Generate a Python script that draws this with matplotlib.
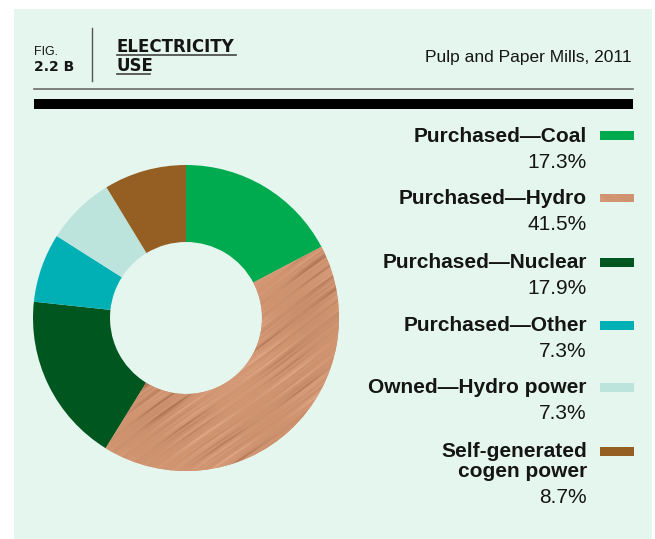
import matplotlib
matplotlib.use("Agg")
import matplotlib.pyplot as plt
import numpy as np
from matplotlib.patches import Rectangle
from matplotlib.lines import Line2D

# electricity sources, pulp and paper mills 2011
labels = ["Purchased\u2014Coal", "Purchased\u2014Hydro", "Purchased\u2014Nuclear",
          "Purchased\u2014Other", "Owned\u2014Hydro power", "Self-generated\ncogen power"]
shares = [17.3, 41.5, 17.9, 7.3, 7.3, 8.7]
pct_labels = ["17.3%", "41.5%", "17.9%", "7.3%", "7.3%", "8.7%"]
colors = ["#00ab4f", "#d09471", "#00561f", "#00b0b4", "#bde4dc", "#955f24"]
textured = 1  # hydro slice gets a wood grain fill

W, H = 655, 539
BG = "#e5f6ee"
INK = "#151515"


def fx(x):
    return x / W


def fy(y):
    return 1 - y / H


fig = plt.figure(figsize=(W / 100, H / 100), dpi=100)
fig.patch.set_facecolor("white")
fig.patches.append(Rectangle((fx(14), 0), fx(652) - fx(14), fy(9), transform=fig.transFigure,
                             facecolor=BG, edgecolor="none", zorder=-5))


def wood(n):
    # deterministic grain pattern, soft streaks running up and to the right
    g = np.linspace(-160, 160, n)
    x, y = np.meshgrid(g, g)
    a = np.deg2rad(36)
    u = x * np.cos(a) + y * np.sin(a)
    v = -x * np.sin(a) + y * np.cos(a)
    vv = v + 1.2 * np.sin(u * 0.03 + 0.7)
    grain = (0.40 * np.sin(vv * 0.55 + 0.3) + 0.30 * np.sin(vv * 1.15 + 1.3)
             + 0.20 * np.sin(vv * 1.9 + u * 0.02) + 0.25 * np.sin(vv * 0.21 + 2.2))
    grain = grain * (0.6 + 0.4 * np.sin(u * 0.06 + v * 0.015))
    blot = (np.sin(u * 0.035 + 1.0) * np.sin(v * 0.028 + 0.4)
            + 0.5 * np.sin(x * 0.05 - y * 0.02 + 2.0))
    base = np.array([0xd0, 0x94, 0x71]) / 255
    light = np.array([0xe2, 0xa8, 0x87]) / 255
    shadow = np.array([0xa6, 0x6e, 0x4f]) / 255
    t = np.clip(grain + 0.25 * blot, -1, 1)
    img = np.where(t[..., None] > 0,
                   base + (shadow - base) * (t[..., None] ** 1.6) * 0.75,
                   base + (light - base) * (-t[..., None]) * 0.9)
    return np.clip(img, 0, 1)


tex = wood(320)

# donut
R = 153
ax = fig.add_axes([fx(186 - 160), fy(318 + 160), 320 / W, 320 / H])
wedges, _ = ax.pie(shares, colors=colors, startangle=90, counterclock=False, radius=R,
                   wedgeprops=dict(width=R - 76, linewidth=0))
ax.axis("off")
im = ax.imshow(tex, extent=(-160, 160, -160, 160), origin="lower", zorder=3,
               interpolation="bicubic")
im.set_clip_path(wedges[textured])
ax.set_xlim(-160, 160)
ax.set_ylim(-160, 160)
ax.set_aspect("auto")

# header
fig.text(fx(34), fy(55), "FIG.", fontsize=9, family="Liberation Sans", color=INK)
fig.text(fx(34), fy(71), "2.2 B", fontsize=10, family="DejaVu Sans", weight="bold", color=INK)
fig.add_artist(Line2D([fx(92), fx(92)], [fy(28), fy(81)], color="#555555", lw=1))
fig.text(fx(117), fy(52), "ELECTRICITY", fontsize=12, family="DejaVu Sans", weight="bold", color=INK)
fig.text(fx(117), fy(71), "USE", fontsize=12, family="DejaVu Sans", weight="bold", color=INK)
fig.add_artist(Line2D([fx(117), fx(236)], [fy(54.5), fy(54.5)], color="#444444", lw=1.2))
fig.add_artist(Line2D([fx(117), fx(150)], [fy(74), fy(74)], color="#444444", lw=1.2))
fig.text(fx(632), fy(62), "Pulp and Paper Mills, 2011", fontsize=12.5, family="Liberation Sans",
         ha="right", color=INK)
fig.add_artist(Line2D([fx(34), fx(633)], [fy(89), fy(89)], color="#6b6b6b", lw=1.2))
fig.patches.append(Rectangle((fx(34), fy(109)), fx(633) - fx(34), fy(99) - fy(109),
                             transform=fig.transFigure, facecolor="black", edgecolor="none"))

# legend
label_base = [142, 204, 268, 331, 393, 457]
for i, (lab, pct) in enumerate(zip(labels, pct_labels)):
    yb = label_base[i]
    lines = lab.split("\n")
    for j, line in enumerate(lines):
        fig.text(fx(587), fy(yb + 20 * j), line, fontsize=15, family="Liberation Sans",
                 weight="bold", ha="right", color=INK)
    fig.text(fx(587), fy(yb + 20 * (len(lines) - 1) + 26), pct, fontsize=15,
             family="Liberation Sans", ha="right", color=INK)
    sy = yb - 10.5
    if i == textured:
        sax = fig.add_axes([fx(600), fy(sy + 9), 34 / W, 9 / H])
        sax.imshow(tex[150:160, 100:140], aspect="auto", interpolation="bicubic")
        sax.axis("off")
    else:
        fig.patches.append(Rectangle((fx(600), fy(sy + 9)), 34 / W, 9 / H,
                                     transform=fig.transFigure, facecolor=colors[i],
                                     edgecolor="none"))

fig.savefig("out.png", dpi=100)
